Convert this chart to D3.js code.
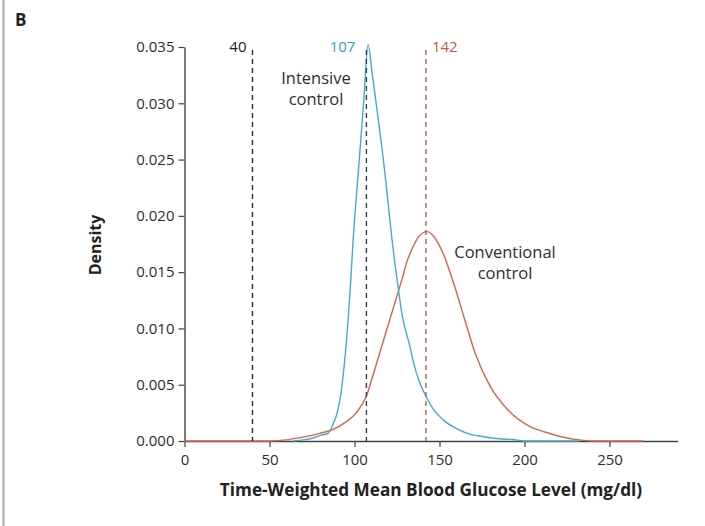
<!DOCTYPE html>
<html>
<head>
<meta charset="utf-8">
<script src="https://cdn.jsdelivr.net/npm/d3@7"></script>
<style>
  html, body { margin: 0; padding: 0; background: #fff; }
  svg { display: block; font-family: "Open Sans", "DejaVu Sans", sans-serif; }
</style>
</head>
<body>
<svg id="chart" width="705" height="526"></svg>
<script>
// Axis ticks
const glucoseTicks = [0, 50, 100, 150, 200, 250];
const densityTicks = [0, 0.005, 0.010, 0.015, 0.020, 0.025, 0.030, 0.035];

// Intensive control density curve
const intensiveGlucose = [64, 70, 74, 80, 84.6, 87.4, 89.8, 92, 93, 95, 97.8, 99.3, 102.2, 105.2, 108,
  110.5, 113, 117.9, 121.9, 124, 126, 128, 132.6, 135, 138, 142, 146, 152, 160, 166, 175, 185, 195, 200, 232];
const intensiveDensity = [0, 0.0001, 0.0002, 0.0005, 0.0007, 0.0015, 0.0025, 0.0042, 0.0054, 0.0084, 0.0143, 0.0181, 0.0238, 0.0297, 0.0352,
  0.0325, 0.0297, 0.0238, 0.0181, 0.0155, 0.0133, 0.0112, 0.0084, 0.0068, 0.0053, 0.0040, 0.0029, 0.0019, 0.0011, 0.0007, 0.0004, 0.0002, 0.0001, 0, 0];

// Conventional control density curve
const conventionalGlucose = [0, 50, 60, 68, 75, 80, 87, 95, 101, 107, 110, 116, 122, 126, 128, 131, 134.6, 138, 142.5,
  147, 152, 159, 165, 171, 180, 190, 203, 212, 221, 232, 240, 270];
const conventionalDensity = [0, 0, 0.0001, 0.0003, 0.0005, 0.0007, 0.0010, 0.0017, 0.0025, 0.0040, 0.0054, 0.0084, 0.0114, 0.0134, 0.0144, 0.0160, 0.0173, 0.0182, 0.0186,
  0.0181, 0.0167, 0.0137, 0.0107, 0.0078, 0.0048, 0.0028, 0.0013, 0.0008, 0.0004, 0.0001, 0, 0];

// Reference lines (mg/dl)
const refValues = [40, 107, 142];
const refLabels = ["40", "107", "142"];

const svg = d3.select("#chart");
const ink = "#2e2e2e";
const blue = "#45aad3";
const red = "#d2664d";

const x = d3.scaleLinear().domain([0, 290]).range([184.5, 677.5]);
const y = d3.scaleLinear().domain([0, 0.035]).range([441, 47]);

// panel frame edge
svg.append("line").attr("x1", 3.5).attr("x2", 3.5).attr("y1", 0).attr("y2", 526)
  .attr("stroke", "#a8a8a8").attr("stroke-width", 2);

// panel letter
svg.append("text").attr("x", 15).attr("y", 26).text("B")
  .attr("font-size", 17).attr("font-weight", 700).attr("fill", "#222");

// axes
const xAxis = svg.append("g").attr("transform", `translate(0,${y(0)})`)
  .call(d3.axisBottom(x).tickValues(glucoseTicks).tickFormat(d3.format("d")).tickSize(6).tickSizeOuter(0));
const yAxis = svg.append("g").attr("transform", `translate(${x(0)},0)`)
  .call(d3.axisLeft(y).tickValues(densityTicks).tickFormat(d3.format(".3f")).tickSize(6).tickSizeOuter(0));

[xAxis, yAxis].forEach(g => {
  g.attr("font-size", 15).attr("font-family", "'Open Sans', sans-serif");
  g.select(".domain").attr("stroke", "#444").attr("stroke-width", 1.4);
  g.selectAll(".tick line").attr("stroke", "#444").attr("stroke-width", 1.2);
  g.selectAll(".tick text").attr("fill", ink);
});
xAxis.selectAll(".tick text").attr("y", 10).attr("dy", "0.95em");
yAxis.selectAll(".tick text").attr("x", -10);

// axis titles
svg.append("text").attr("x", 431).attr("y", 496).attr("text-anchor", "middle")
  .attr("font-size", 17.2).attr("font-weight", 700).attr("fill", "#222")
  .text("Time-Weighted Mean Blood Glucose Level (mg/dl)");
svg.append("text").attr("transform", "translate(101,245) rotate(-90)").attr("text-anchor", "middle")
  .attr("font-size", 16).attr("font-weight", 700).attr("fill", "#222").text("Density");

// density curves
const line = d3.line().x(d => x(d[0])).y(d => y(d[1])).curve(d3.curveMonotoneX);
const conventional = conventionalGlucose.map((g, i) => [g, conventionalDensity[i]]);
const intensive = intensiveGlucose.map((g, i) => [g, intensiveDensity[i]]);

svg.append("path").datum(conventional).attr("d", line)
  .attr("fill", "none").attr("stroke", red).attr("stroke-width", 1.4);
svg.append("path").datum(intensive).attr("d", line)
  .attr("fill", "none").attr("stroke", blue).attr("stroke-width", 1.4);

// reference lines and labels
const refStyle = [
  { stroke: "#2a2a2a", color: "#222", anchor: "end", dx: -6, top: 50 },
  { stroke: "#2c3e55", color: "#3a9cc4", anchor: "end", dx: -11, top: 50 },
  { stroke: "#bf5f48", color: "#b85e48", anchor: "start", dx: 6, top: 50 }
];
refValues.forEach((v, i) => {
  const s = refStyle[i];
  svg.append("line").attr("x1", x(v)).attr("x2", x(v)).attr("y1", s.top).attr("y2", y(0))
    .attr("stroke", s.stroke).attr("stroke-width", 1.4).attr("stroke-dasharray", "5,4");
  svg.append("text").attr("x", x(v) + s.dx).attr("y", 52).attr("text-anchor", s.anchor)
    .attr("font-size", 15).attr("fill", s.color).text(refLabels[i]);
});

// curve annotations
const note = (cx, lines, y0) => lines.forEach((t, i) =>
  svg.append("text").attr("x", cx).attr("y", y0 + i * 21).attr("text-anchor", "middle")
    .attr("font-size", 16.5).attr("fill", ink).text(t));
note(316, ["Intensive", "control"], 84);
note(505, ["Conventional", "control"], 258);
</script>
</body>
</html>
